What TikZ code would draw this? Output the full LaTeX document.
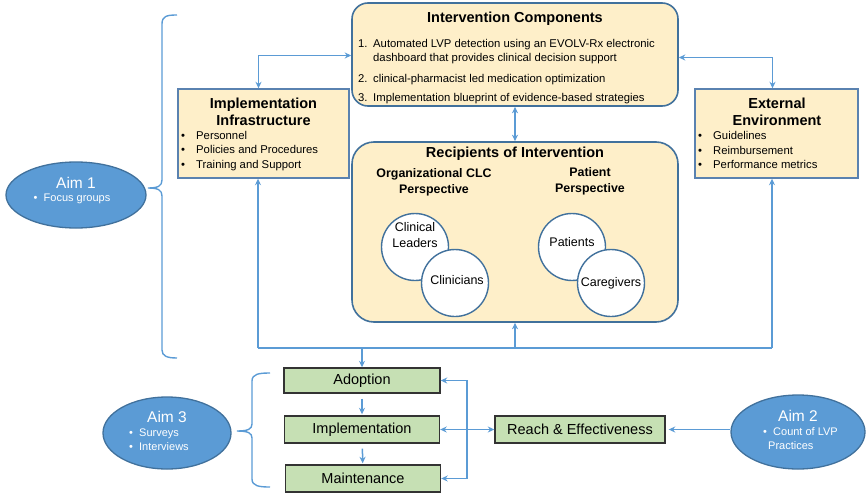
\documentclass[tikz,border=0pt]{standalone}
\usepackage{fontspec}
\setmainfont{Liberation Sans}
\usetikzlibrary{arrows.meta,shapes.geometric}
\definecolor{link}{HTML}{5B9BD5}
\definecolor{frame}{HTML}{41719C}
\definecolor{cream}{HTML}{FEEFC9}
\definecolor{sage}{HTML}{C6E0B4}
\definecolor{boxline}{HTML}{5A82B0}
\begin{document}
\begin{tikzpicture}[x=1pt,y=-1pt,
  conn/.style={draw=link, line width=1.5pt, >={Stealth[length=6.5pt,width=6pt]}},
  brace/.style={draw=link, line width=1.4pt},
  rbox/.style={draw=frame, fill=cream, line width=1.6pt, inner sep=0pt},
  sbox/.style={draw=boxline, fill=cream, line width=1.4pt, inner sep=0pt},
  gbox/.style={draw=black!80, fill=sage, line width=1.4pt, inner sep=0pt,
               font=\fontsize{14.5}{17}\selectfont},
  person/.style={circle, draw=frame, fill=white, line width=1.4pt, inner sep=0pt,
                 minimum size=67pt},
  plabel/.style={inner sep=0pt, align=center, font=\fontsize{12.5}{15.5}\selectfont},
  aim/.style={ellipse, draw=frame, fill=link, line width=1.3pt, inner sep=0pt},
  head/.style={inner sep=0pt, align=center, font=\fontsize{14.5}{17.5}\selectfont\bfseries},
  subhead/.style={inner sep=0pt, align=center, font=\fontsize{12.4}{16}\selectfont\bfseries},
  body/.style={inner sep=0pt, align=left, font=\fontsize{11.3}{14.8}\selectfont},
  aimtitle/.style={inner sep=0pt, text=white, font=\fontsize{15.5}{18}\selectfont},
  aimtext/.style={inner sep=0pt, text=white, align=left, font=\fontsize{11}{14}\selectfont}
]
\useasboundingbox (0,0) rectangle (866,495);

% ---- upper model boxes ----
\node[rbox, rounded corners=16pt, minimum width=326pt, minimum height=103pt] (ic) at (515,54.5) {};
\node[head] (icT) at (515,19) {Intervention Components};
\node[body, anchor=base west] (ic1) at (358,47.5) {\makebox[15pt][l]{1.}Automated LVP detection using an EVOLV-Rx electronic};
\node[body, anchor=base west] (ic1b) at (373,62) {dashboard that provides clinical decision support};
\node[body, anchor=base west] (ic2) at (358,82) {\makebox[15pt][l]{2.}clinical-pharmacist led medication optimization};
\node[body, anchor=base west] (ic3) at (358,101) {\makebox[15pt][l]{3.}Implementation blueprint of evidence-based strategies};

\node[sbox, minimum width=171pt, minimum height=89pt] (infra) at (263.5,133.5) {};
\node[head] (infraT) at (263.5,112) {Implementation\\Infrastructure};
\node[body, anchor=west] (infraL) at (181,151) {\makebox[15pt][l]{•}Personnel\\\makebox[15pt][l]{•}Policies and Procedures\\\makebox[15pt][l]{•}Training and Support};

\node[sbox, minimum width=163pt, minimum height=89pt] (ext) at (776.5,133.5) {};
\node[head] (extT) at (777,112) {External\\Environment};
\node[body, anchor=west] (extL) at (698,150) {\makebox[15pt][l]{•}Guidelines\\\makebox[15pt][l]{•}Reimbursement\\\makebox[15pt][l]{•}Performance metrics};

\node[rbox, rounded corners=22pt, minimum width=326pt, minimum height=180pt] (rec) at (515,232) {};
\node[head] (recT) at (515,154) {Recipients of Intervention};
\node[subhead] (orgT) at (434,182) {Organizational CLC\\Perspective};
\node[subhead] (patT) at (590,181) {Patient\\Perspective};

\node[person] (lead) at (415,247) {};
\node[plabel] (leadT) at (415,235) {Clinical\\Leaders};
\node[person] (clin) at (455,283) {};
\node[plabel] (clinT) at (457,280) {Clinicians};
\node[person] (pat) at (572,247) {};
\node[plabel] (patT2) at (572,242) {Patients};
\node[person] (care) at (611,283) {};
\node[plabel] (careT) at (611,283) {Caregivers};

% ---- RE-AIM outcome boxes ----
\node[gbox, minimum width=156pt, minimum height=25pt] (adopt) at (362,380.5) {Adoption};
\node[gbox, minimum width=155pt, minimum height=27pt] (impl) at (362,429.5) {Implementation};
\node[gbox, minimum width=155pt, minimum height=27pt] (maint) at (363,478.5) {Maintenance};
\node[gbox, minimum width=170pt, minimum height=27pt] (reach) at (580,429.5) {Reach \& Effectiveness};

% ---- aims ----
\node[aim, minimum width=140pt, minimum height=66pt] (aim1) at (76,195) {};
\node[aimtitle] (aim1T) at (76,183) {Aim 1};
\node[aimtext] (aim1L) at (72,199) {\makebox[10pt][l]{•}Focus groups};

\node[aim, minimum width=128pt, minimum height=72pt] (aim3) at (167,433) {};
\node[aimtitle] (aim3T) at (167,417) {Aim 3};
\node[aimtext, anchor=west] (aim3L) at (129,440) {\makebox[10pt][l]{•}Surveys\\\makebox[10pt][l]{•}Interviews};

\node[aim, minimum width=134pt, minimum height=74pt] (aim2) at (798,432) {};
\node[aimtitle] (aim2T) at (798,416) {Aim 2};
\node[aimtext, anchor=west] (aim2L) at (763,439) {\makebox[10pt][l]{•}Count of LVP\\\hspace*{5pt}Practices};

% ---- connectors in the upper model ----
\draw[conn,<->] (ic.south) -- (rec.north);
\draw[conn,<->] ([xshift=-5pt]infra.north) |- ([yshift=-1pt]ic.west);
\draw[conn,<->] ([yshift=-3pt]ic.east) -| ([xshift=-4pt]ext.north);

\coordinate (busL) at (258,348);
\coordinate (busR) at (772,348);
\draw[conn] (busL) -- (busR);
\draw[conn,->] (busL) -- (busL |- infra.south);
\draw[conn,->] (busR) -- (busR |- ext.south);
\draw[conn,->] (rec.south |- busL) -- (rec.south);
\draw[conn,->] (adopt.north |- busL) -- (adopt.north);

% ---- connectors among outcomes ----
\draw[conn,->,shorten <=5pt,shorten >=1pt] (adopt) -- (impl);
\draw[conn,->,shorten <=5pt,shorten >=1pt] (impl) -- (maint);
\draw[conn,<->] (impl.east) -- (reach.west);
\coordinate (split) at (467,429.5);
\draw[conn,->] (split) |- (adopt.east);
\draw[conn,->] (split) |- (maint.east);
\draw[conn,->] (aim2.west |- reach.east) -- ([xshift=3pt]reach.east);

% ---- braces ----
\draw[brace] (177,15) .. controls (167,15) and (162,16) .. (162,24) -- (162,180)
  .. controls (162,186) and (158,188) .. (148,188)
  .. controls (158,188) and (162,190) .. (162,196) -- (162,350)
  .. controls (162,356) and (167,358) .. (177,358);
\draw[brace] (270,373) .. controls (259,373) and (252,374) .. (252,381) -- (252,424)
  .. controls (252,429) and (248,431) .. (237,431)
  .. controls (248,431) and (252,433) .. (252,438) -- (252,479)
  .. controls (252,486) and (259,487) .. (270,487);
\end{tikzpicture}
\end{document}
